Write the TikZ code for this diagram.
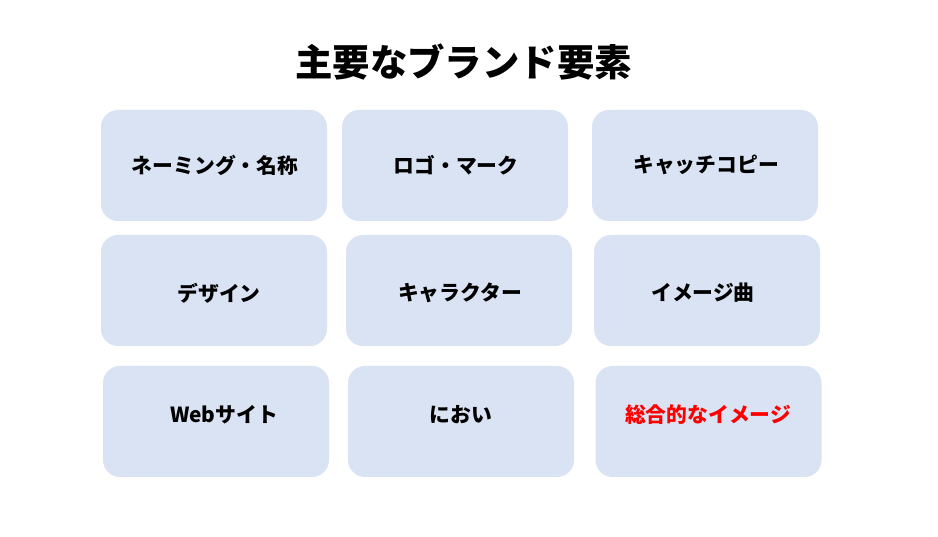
\documentclass[tikz,border=0pt]{standalone}
\usepackage{fontspec}
\setmainfont{Noto Sans CJK JP}
\definecolor{boxfill}{HTML}{DAE3F3}
\definecolor{redtext}{HTML}{FF0000}
\begin{document}
\begin{tikzpicture}[x=1pt,y=-1pt,
  card/.style={fill=boxfill,draw=none,rounded corners=17pt,minimum width=226pt,minimum height=111pt,inner sep=0pt},
  cardtext/.style={font=\fontsize{20.8}{24}\selectfont\bfseries,inner sep=0pt,anchor=center},
  titletext/.style={font=\fontsize{37.4}{42}\selectfont\bfseries,inner sep=0pt}]
\useasboundingbox[fill=white] (0,0) rectangle (938,537);
\node[titletext] (title) at (463.5,62) {主要なブランド要素};
% row 1
\node[card] (b1) at (214,165.5) {};
\node[card] (b2) at (455,165.5) {};
\node[card] (b3) at (705,165.5) {};
% row 2
\node[card] (b4) at (214,290.5) {};
\node[card] (b5) at (459,290.5) {};
\node[card] (b6) at (707,290.5) {};
% row 3
\node[card] (b7) at (216,421.5) {};
\node[card] (b8) at (461,421.5) {};
\node[card] (b9) at (708.5,421.5) {};
% texts
\node[cardtext] (t1) at (215,165) {ネーミング・名称};
\node[cardtext] (t2) at (456,165) {ロゴ・マーク};
\node[cardtext] (t3) at (706,165) {キャッチコピー};
\node[cardtext] (t4) at (219,293) {デザイン};
\node[cardtext] (t5) at (460,293) {キャラクター};
\node[cardtext] (t6) at (703,293) {イメージ曲};
\node[cardtext] (t7) at (224,415) {Webサイト};
\node[cardtext] (t8) at (461,415) {におい};
\node[cardtext,text=redtext] (t9) at (708,415) {総合的なイメージ};
\end{tikzpicture}
\end{document}
